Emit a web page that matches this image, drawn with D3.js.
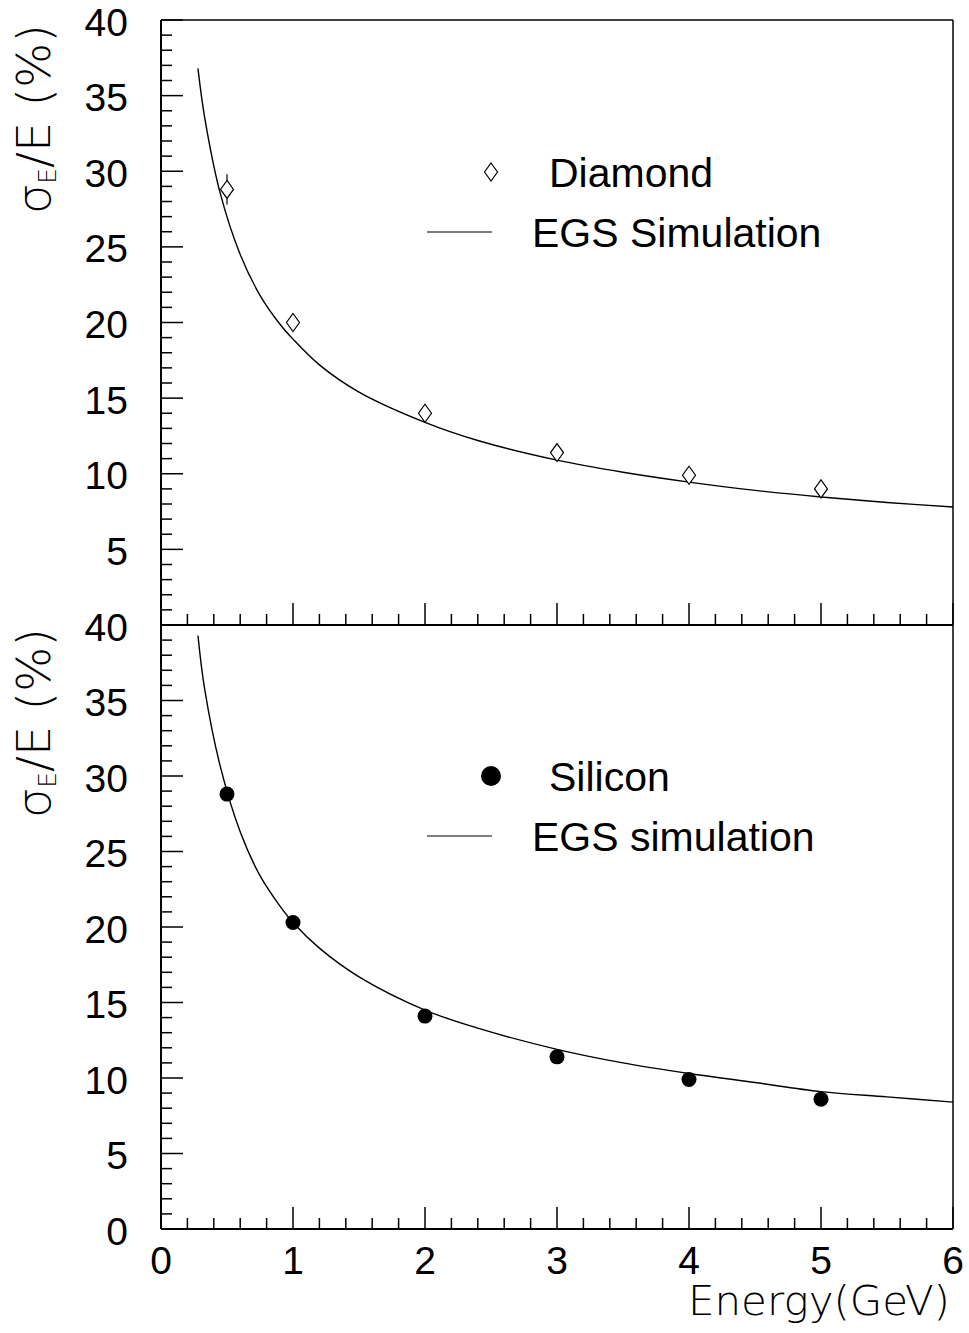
<!DOCTYPE html>
<html>
<head>
<meta charset="utf-8">
<script src="https://cdn.jsdelivr.net/npm/d3@7"></script>
<style>
  body { margin: 0; background: #fff; }
  svg { display: block; }
</style>
</head>
<body>
<svg id="chart" width="969" height="1333"></svg>
<script>
// measured points (energy in GeV, resolution in %)
var energy = [0.5, 1, 2, 3, 4, 5];
var diamondRes = [28.8, 20.0, 14.0, 11.4, 9.9, 9.0];
var diamondErr = [1.0, 0.3, 0.3, 0.3, 0.3, 0.3];
var siliconRes = [28.8, 20.3, 14.1, 11.4, 9.9, 8.6];

// EGS simulation curves
var simEnergy = [0.28, 0.33, 0.45, 0.6, 0.75, 0.9, 1.0, 1.2, 1.5, 2.0, 2.4, 3.0, 3.5, 4.0, 4.5, 5.0, 5.5, 6.0];
var diamondSim = [36.8, 33.6, 28.5, 24.5, 21.8, 19.9, 18.9, 17.2, 15.4, 13.4, 12.2, 10.9, 10.1, 9.45, 8.9, 8.46, 8.1, 7.8];
var siliconSim = [39.3, 35.8, 30.6, 26.3, 23.4, 21.4, 20.3, 18.6, 16.7, 14.5, 13.3, 11.9, 11.0, 10.3, 9.7, 9.1, 8.75, 8.4];

var xTicks = [0, 1, 2, 3, 4, 5, 6];
var topYTicks = [5, 10, 15, 20, 25, 30, 35, 40];
var botYTicks = [0, 5, 10, 15, 20, 25, 30, 35, 40];

var svg = d3.select("#chart");
var left = 161, right = 953;
var x = d3.scaleLinear().domain([0, 6]).range([left, right]);
var yTop = d3.scaleLinear().domain([0, 40]).range([625, 20]);
var yBot = d3.scaleLinear().domain([0, 40]).range([1229, 625]);

var tickFont = "'Liberation Sans', Arial, sans-serif";
var titleFont = "'DejaVu Sans', sans-serif";

function drawPanel(y, yTicks, showXLabels) {
    var g = svg.append("g");
    var y0 = y.range()[0];

    // x axis with ticks pointing up
    var xMinor = d3.range(0, 6.001, 0.2);
    g.selectAll(".xminor").data(xMinor).enter().append("line")
        .attr("x1", function(d) { return x(d); })
        .attr("x2", function(d) { return x(d); })
        .attr("y1", y0)
        .attr("y2", function(d) { return Math.abs(d - Math.round(d)) < 1e-6 ? y0 - 22 : y0 - 11; })
        .attr("stroke", "#000").attr("stroke-width", 1.5);
    g.append("line")
        .attr("x1", left).attr("x2", right)
        .attr("y1", y0).attr("y2", y0)
        .attr("stroke", "#000").attr("stroke-width", 2);

    // y axis with ticks pointing right
    var yMinor = d3.range(0, 40.001, 1);
    g.selectAll(".yminor").data(yMinor).enter().append("line")
        .attr("x1", left)
        .attr("x2", function(d) { return d % 5 == 0 ? left + 22 : left + 11; })
        .attr("y1", function(d) { return y(d); })
        .attr("y2", function(d) { return y(d); })
        .attr("stroke", "#000").attr("stroke-width", 1.5);
    g.append("line")
        .attr("x1", left).attr("x2", left)
        .attr("y1", y(0)).attr("y2", y(40))
        .attr("stroke", "#000").attr("stroke-width", 2);

    g.selectAll(".ylab").data(yTicks).enter().append("text")
        .attr("x", 128)
        .attr("y", function(d) { return y(d); })
        .attr("dy", "0.4em")
        .attr("text-anchor", "end")
        .attr("font-family", tickFont)
        .attr("font-size", 39)
        .text(function(d) { return d; });

    if (showXLabels) {
        g.selectAll(".xlab").data(xTicks).enter().append("text")
            .attr("x", function(d) { return x(d); })
            .attr("y", y0 + 45)
            .attr("text-anchor", "middle")
            .attr("font-family", tickFont)
            .attr("font-size", 39)
            .text(function(d) { return d; });
    }
    return g;
}

var gTop = drawPanel(yTop, topYTicks, false);
var gBot = drawPanel(yBot, botYTicks, true);

// frame: top edge and right edge
svg.append("line").attr("x1", left).attr("x2", right).attr("y1", 20).attr("y2", 20)
    .attr("stroke", "#000").attr("stroke-width", 1.5);
svg.append("line").attr("x1", right).attr("x2", right).attr("y1", 20).attr("y2", 1229)
    .attr("stroke", "#000").attr("stroke-width", 1.5);

// simulation curves
function simLine(y) {
    return d3.line()
        .x(function(d) { return x(d[0]); })
        .y(function(d) { return y(d[1]); })
        .curve(d3.curveCatmullRom);
}
gTop.append("path")
    .datum(d3.zip(simEnergy, diamondSim))
    .attr("d", simLine(yTop))
    .attr("fill", "none").attr("stroke", "#000").attr("stroke-width", 1.4);
gBot.append("path")
    .datum(d3.zip(simEnergy, siliconSim))
    .attr("d", simLine(yBot))
    .attr("fill", "none").attr("stroke", "#000").attr("stroke-width", 1.4);

// diamond markers (open) with error bars outside the marker
var dw = 6.5, dh = 9;
function diamondPath(cx, cy) {
    return "M" + cx + "," + (cy - dh) + "L" + (cx + dw) + "," + cy +
           "L" + cx + "," + (cy + dh) + "L" + (cx - dw) + "," + cy + "Z";
}
var diamondData = d3.zip(energy, diamondRes, diamondErr);
diamondData.forEach(function(d) {
    var cx = x(d[0]), cy = yTop(d[1]);
    var top = yTop(d[1] + d[2]), bot = yTop(d[1] - d[2]);
    if (cy - top > dh) {
        gTop.append("line").attr("x1", cx).attr("x2", cx).attr("y1", top).attr("y2", cy - dh)
            .attr("stroke", "#000").attr("stroke-width", 1.2);
        gTop.append("line").attr("x1", cx).attr("x2", cx).attr("y1", cy + dh).attr("y2", bot)
            .attr("stroke", "#000").attr("stroke-width", 1.2);
    }
    gTop.append("path").attr("d", diamondPath(cx, cy))
        .attr("fill", "#fff").attr("stroke", "#000").attr("stroke-width", 1.2);
});

// silicon markers (filled circles)
gBot.selectAll(".si").data(d3.zip(energy, siliconRes)).enter().append("circle")
    .attr("cx", function(d) { return x(d[0]); })
    .attr("cy", function(d) { return yBot(d[1]); })
    .attr("r", 7.5)
    .attr("fill", "#000");

// legends
function legend(g, yMark, markerFn, label1, label2) {
    markerFn(g, 491, yMark);
    g.append("text").attr("x", 549).attr("y", yMark + 15)
        .attr("font-family", tickFont).attr("font-size", 41).text(label1);
    g.append("line").attr("x1", 427).attr("x2", 492).attr("y1", yMark + 60).attr("y2", yMark + 60)
        .attr("stroke", "#000").attr("stroke-width", 1.2);
    g.append("text").attr("x", 532).attr("y", yMark + 75)
        .attr("font-family", tickFont).attr("font-size", 41).text(label2);
}
legend(gTop, 172, function(g, cx, cy) {
    g.append("path").attr("d", diamondPath(cx, cy))
        .attr("fill", "#fff").attr("stroke", "#000").attr("stroke-width", 1.2);
}, "Diamond", "EGS Simulation");
legend(gBot, 776, function(g, cx, cy) {
    g.append("circle").attr("cx", cx).attr("cy", cy).attr("r", 10).attr("fill", "#000");
}, "Silicon", "EGS simulation");

// axis titles
function yTitle(yStart) {
    var t = svg.append("text")
        .attr("transform", "translate(50," + yStart + ") rotate(-90)")
        .attr("font-family", titleFont)
        .attr("font-weight", 300)
        .attr("font-size", 46)
        .attr("textLength", 190)
        .attr("lengthAdjust", "spacingAndGlyphs");
    t.append("tspan").text("σ");
    t.append("tspan").attr("font-size", 24).attr("dy", 6).text("E");
    t.append("tspan").attr("dy", -6).text("/E (%)");
}
yTitle(214);
yTitle(818);

svg.append("text")
    .attr("x", 950).attr("y", 1315)
    .attr("text-anchor", "end")
    .attr("font-family", titleFont)
    .attr("font-weight", 300)
    .attr("font-size", 40)
    .attr("textLength", 262)
    .attr("lengthAdjust", "spacingAndGlyphs")
    .text("Energy(GeV)");
</script>
</body>
</html>
